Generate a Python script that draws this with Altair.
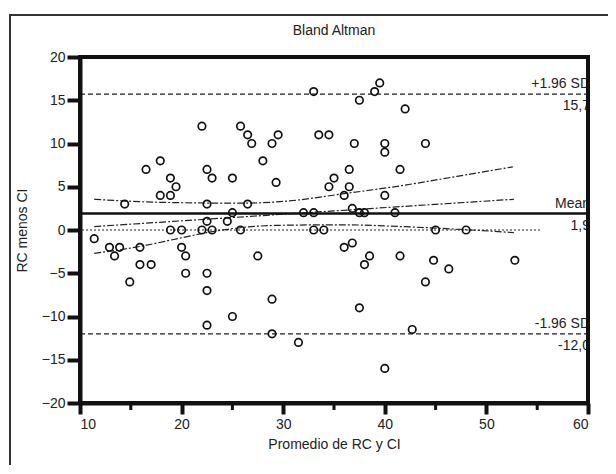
import altair as alt
import pandas as pd

# ---- data ----
mean_x = [22, 25.8, 16.5, 17.9, 22.5, 18.9, 23, 25, 19.45, 17.9, 18.9, 14.4, 22.5, 25,
          33, 39.5, 39, 37.5, 42, 26.5, 26.9, 28.9, 29.5, 33.5, 34.5, 37, 40, 40, 28,
          36.5, 41.5, 29.3, 35, 34.5, 36.5, 36, 40, 26.5, 36.8, 32, 33, 37.5, 38, 41, 44,
          22.5, 24.5, 11.4, 18.9, 20, 22, 23, 25.8, 12.9, 13.9, 13.4, 15.9, 20, 20.4,
          15.9, 17, 14.9, 20.4, 22.5, 22.5, 25, 22.5,
          33, 34, 27.5, 36, 36.8, 38.5, 38, 41.5, 28.9, 37.5, 28.9, 31.5, 40, 42.7,
          45, 48, 44.8, 46.3, 44, 52.8]
diff_y = [12, 12, 7, 8, 7, 6, 6, 6, 5, 4, 4, 3, 3, 2,
          16, 17, 16, 15, 14, 11, 10, 10, 11, 11, 11, 10, 10, 9, 8,
          7, 7, 5.5, 6, 5, 5, 4, 4, 3, 2.5, 2, 2, 2, 2, 2, 10,
          1, 1, -1, 0, 0, 0, 0, 0, -2, -2, -3, -2, -2, -3,
          -4, -4, -6, -5, -5, -7, -10, -11,
          0, 0, -3, -2, -1.5, -3, -4, -3, -8, -9, -12, -13, -16, -11.5,
          0, 0, -3.5, -4.5, -6, -3.5]

ref_names = ["+1.96 SD", "Mean", "-1.96 SD"]
ref_values = [15.7, 1.9, -12.0]
ref_value_labels = ["15,7", "1,9", "-12,0"]
ref_kind = ["sd", "mean", "sd"]
x_start, x_end = 10, 60

upper_x = [11.4, 17.9, 25.8, 30, 36, 41.5, 47.1, 52.6]
upper_y = [3.55, 3.2, 3.1, 3.3, 4.2, 5.1, 6.2, 7.3]
reg_x = [11.4, 41.5, 52.7]
reg_y = [0.4, 2.7, 3.55]
lower_x = [11.4, 15.9, 20, 22.5, 26, 30, 36, 41.5, 47, 52.7]
lower_y = [-2.7, -1.9, -0.9, -0.3, 0.3, 0.55, 0.6, 0.4, 0.1, -0.3]

zero_x = [10.2, 55.4]
zero_y = [0, 0]

x_major = [10, 20, 30, 40, 50, 60]
x_minor = [15, 25, 35, 45, 55]
y_ticks = [-20, -15, -10, -5, 0, 5, 10, 15, 20]
chart_title = "Bland Altman"

# ---- tables ----
pts = pd.DataFrame({"m": mean_x, "d": diff_y})
refs = pd.DataFrame({"name": ref_names, "v": ref_values, "lab": ref_value_labels,
                     "kind": ref_kind, "x0": x_start, "x1": x_end})
curves = pd.concat([
    pd.DataFrame({"c": "upper", "x": upper_x, "y": upper_y}),
    pd.DataFrame({"c": "reg", "x": reg_x, "y": reg_y}),
    pd.DataFrame({"c": "lower", "x": lower_x, "y": lower_y}),
])
zero = pd.DataFrame({"x": zero_x, "y": zero_y})
minor = pd.DataFrame({"t": x_minor})

W, H = 508, 346
FONT = "Liberation Sans"

xs = alt.Scale(domain=[10, 60], nice=False, zero=False)
ys = alt.Scale(domain=[-20, 20], nice=False, zero=False)

xaxis = alt.Axis(values=x_major, title="Promedio de RC y CI", grid=False,
                 tickSize=11, tickWidth=4, tickColor="#111", domainWidth=4,
                 domainColor="#111", labelFontSize=14, labelPadding=3,
                 labelColor="#222", titleFontSize=14, titleFontWeight="normal",
                 titleColor="#222", titlePadding=6, labelFont=FONT, titleFont=FONT)
yaxis = alt.Axis(values=y_ticks, title="RC menos CI", grid=False,
                 tickSize=13, tickWidth=4, tickColor="#111", domainWidth=4,
                 domainColor="#111", labelFontSize=14, labelPadding=2,
                 labelColor="#222", titleFontSize=14, titleFontWeight="normal",
                 titleColor="#222", titlePadding=12, labelFont=FONT, titleFont=FONT)

points = alt.Chart(pts).mark_point(shape="circle", filled=False, size=56,
                                   stroke="#111", strokeWidth=1.7, opacity=1).encode(
    x=alt.X("m:Q", scale=xs, axis=xaxis),
    y=alt.Y("d:Q", scale=ys, axis=yaxis),
)

mean_rule = alt.Chart(refs).transform_filter("datum.kind == 'mean'").mark_rule(
    color="#111", strokeWidth=2.6).encode(
    x=alt.X("x0:Q", scale=xs, axis=xaxis), x2="x1:Q",
    y=alt.Y("v:Q", scale=ys, axis=yaxis))

sd_rules = alt.Chart(refs).transform_filter("datum.kind == 'sd'").mark_rule(
    color="#222", strokeWidth=1.2, strokeDash=[5, 3]).encode(
    x=alt.X("x0:Q", scale=xs, axis=xaxis), x2="x1:Q",
    y=alt.Y("v:Q", scale=ys, axis=yaxis))

zero_line = alt.Chart(zero).mark_line(color="#222", strokeWidth=1.1,
                                      strokeDash=[2, 2]).encode(
    x=alt.X("x:Q", scale=xs, axis=xaxis), y=alt.Y("y:Q", scale=ys, axis=yaxis))

curve_lines = alt.Chart(curves).mark_line(color="#222", strokeWidth=1.2,
                                          strokeDash=[7, 2, 2, 2],
                                          interpolate="monotone").encode(
    x=alt.X("x:Q", scale=xs, axis=xaxis), y=alt.Y("y:Q", scale=ys, axis=yaxis),
    detail="c:N")

above = alt.Chart(refs).mark_text(align="right", baseline="alphabetic", dy=-6, dx=2,
                                  fontSize=14, font=FONT, color="#222").encode(
    x=alt.X("x1:Q", scale=xs, axis=xaxis), y=alt.Y("v:Q", scale=ys, axis=yaxis),
    text="name:N")
below = alt.Chart(refs).mark_text(align="right", baseline="alphabetic", dy=16, dx=2,
                                  fontSize=14, font=FONT, color="#222").encode(
    x=alt.X("x1:Q", scale=xs, axis=xaxis), y=alt.Y("v:Q", scale=ys, axis=yaxis),
    text="lab:N")

minor_ticks = alt.Chart(minor).mark_rule(color="#111", strokeWidth=3).encode(
    x=alt.X("t:Q", scale=xs, axis=xaxis), y=alt.value(H), y2=alt.value(H + 7))

frame = alt.Chart(pd.DataFrame({"a": [0]})).mark_rect(
    fill=None, stroke="#333", strokeWidth=2).encode(
    x=alt.value(-70), x2=alt.value(600), y=alt.value(-42), y2=alt.value(480))

plot_border = alt.Chart(pd.DataFrame({"a": [0]})).mark_rect(
    fill=None, stroke="#111", strokeWidth=4).encode(
    x=alt.value(0), x2=alt.value(W), y=alt.value(0), y2=alt.value(H))

title_text = alt.Chart(pd.DataFrame({"t": [chart_title]})).mark_text(
    fontSize=14, font=FONT, color="#222", align="center", baseline="middle").encode(
    x=alt.value(W / 2), y=alt.value(-26), text="t:N")

chart = alt.layer(
    frame, sd_rules, zero_line, curve_lines, mean_rule, points, above, below,
    plot_border, minor_ticks, title_text
).properties(
    width=W, height=H,
    autosize=alt.AutoSizeParams(type="none"),
    padding={"left": 72, "top": 49, "right": 20, "bottom": 62},
).configure(font=FONT).configure_view(
    stroke="#111", strokeWidth=4
).configure_axis(
    tickWidth=4, tickColor="#111", domainWidth=4, domainColor="#111", grid=False
).configure_axisX(tickSize=11).configure_axisY(tickSize=13)

chart.save("out.html", embed_options={"renderer": "svg", "actions": False})
